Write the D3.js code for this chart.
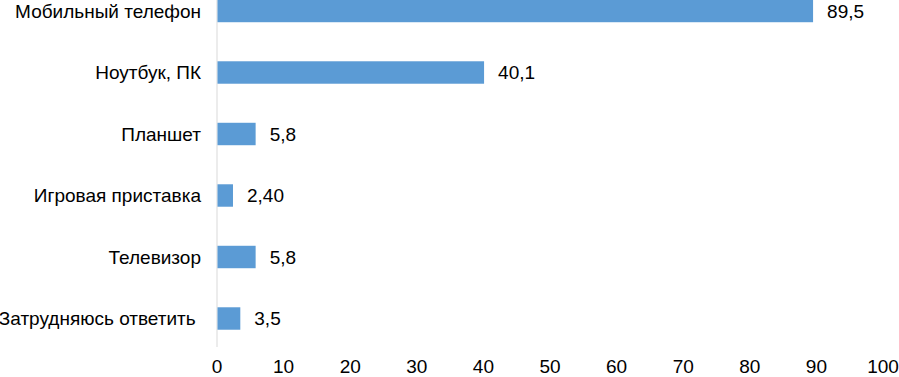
<!DOCTYPE html>
<html>
<head>
<meta charset="utf-8">
<script src="https://cdn.jsdelivr.net/npm/d3@7"></script>
<style>
  body { margin: 0; background: #fff; }
  text { font-family: "Liberation Sans", Arial, sans-serif; }
</style>
</head>
<body>
<div id="chart"></div>
<script>
const categories = ["Мобильный телефон", "Ноутбук, ПК", "Планшет", "Игровая приставка", "Телевизор", "Затрудняюсь ответить "];
const values = [89.5, 40.1, 5.8, 2.4, 5.8, 3.5];
const valueLabels = ["89,5", "40,1", "5,8", "2,40", "5,8", "3,5"];
const ticks = [0, 10, 20, 30, 40, 50, 60, 70, 80, 90, 100];

const width = 899, height = 377;

const svg = d3.select("#chart")
    .append("svg")
    .attr("width", width)
    .attr("height", height);

const x = d3.scaleLinear()
    .domain([0, 100])
    .range([217, 883]);

const y = d3.scaleBand()
    .domain(categories)
    .range([-19.75, 349.25])
    .paddingInner(0.635)
    .paddingOuter(0.3175);

// vertical axis line
svg.append("line")
    .attr("x1", x(0)).attr("x2", x(0))
    .attr("y1", 0).attr("y2", 347)
    .style("stroke", "#d9d9d9")
    .style("stroke-width", 1);

// bars
svg.append("g")
    .selectAll("rect")
    .data(values)
    .join("rect")
    .attr("x", x(0) + 0.5)
    .attr("y", (d, i) => y(categories[i]))
    .attr("width", d => x(d) - x(0) - 0.5)
    .attr("height", y.bandwidth())
    .attr("fill", "#5b9bd5");

// value labels
svg.append("g")
    .selectAll("text")
    .data(values)
    .join("text")
    .attr("x", d => x(d) + 14)
    .attr("y", (d, i) => y(categories[i]) + y.bandwidth() / 2)
    .attr("dy", "0.35em")
    .style("font-size", "19px")
    .style("fill", "#000")
    .text((d, i) => valueLabels[i]);

// category labels
svg.append("g")
    .selectAll("text")
    .data(categories)
    .join("text")
    .attr("x", 201)
    .attr("y", d => y(d) + y.bandwidth() / 2)
    .attr("dy", "0.35em")
    .attr("text-anchor", "end")
    .style("white-space", "pre")
    .style("font-size", "19px")
    .style("fill", "#000")
    .text(d => d);

// x axis tick labels
svg.append("g")
    .selectAll("text")
    .data(ticks)
    .join("text")
    .attr("x", d => x(d))
    .attr("y", 366)
    .attr("dy", "0.35em")
    .attr("text-anchor", "middle")
    .style("font-size", "19px")
    .style("fill", "#000")
    .text(d => d);
</script>
</body>
</html>
